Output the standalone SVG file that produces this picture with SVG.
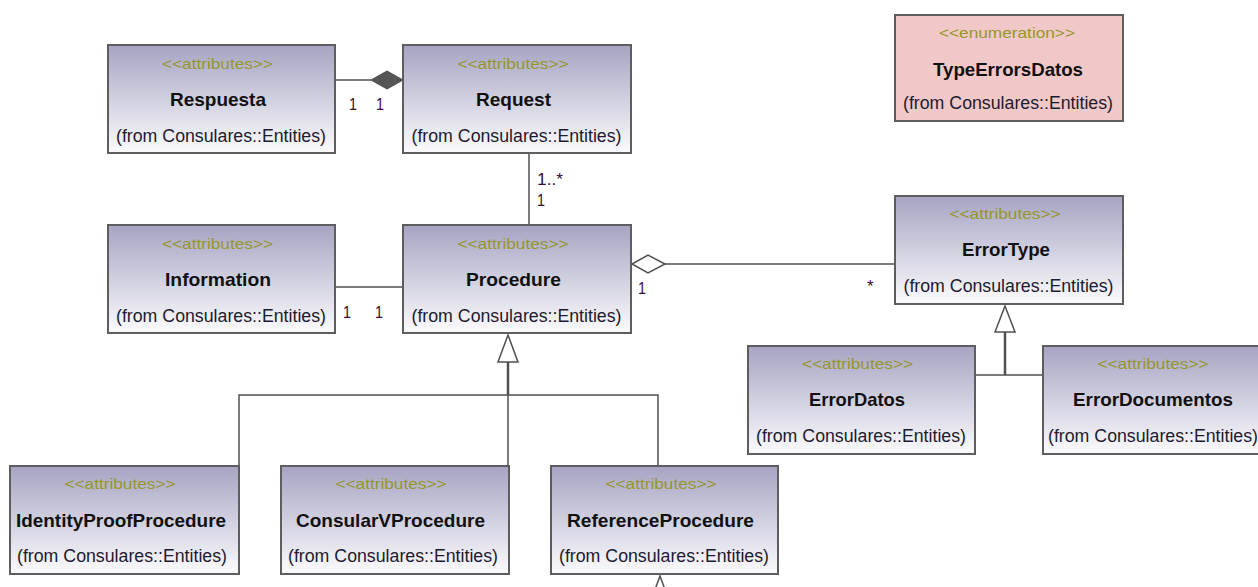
<svg xmlns="http://www.w3.org/2000/svg" width="1258" height="587" viewBox="0 0 1258 587">
  <defs>
    <linearGradient id="classFill" x1="0" y1="0" x2="0" y2="1">
      <stop offset="0" stop-color="#a6a4c2"/>
      <stop offset="1" stop-color="#fbfbfd"/>
    </linearGradient>
    <style>
      .box { fill: url(#classFill); stroke: #5e5e5e; stroke-width: 2; }
      .enum { fill: #f0c8c8; stroke: #5e5e5e; stroke-width: 2; }
      .st { font-family: "Liberation Sans", Arial, sans-serif; font-size: 15px; fill: #96962a; text-anchor: middle; }
      .nm { font-family: "Liberation Sans", Arial, sans-serif; font-size: 18.5px; font-weight: bold; fill: #111; text-anchor: middle; }
      .fr { font-family: "Liberation Sans", Arial, sans-serif; font-size: 17.5px; fill: #1e1a30; text-anchor: middle; }
      .mult { font-family: "Liberation Sans", Arial, sans-serif; font-size: 17px; fill: #3a0a3a; }
      .ln { fill: none; stroke: #505050; stroke-width: 1.5; }
      .thick { fill: none; stroke: #505050; stroke-width: 2.5; }
      .hollow { fill: #fff; stroke: #505050; stroke-width: 1.5; }
      .solid { fill: #555; stroke: #505050; stroke-width: 1; }
    </style>
  </defs>

  <rect width="1258" height="587" fill="#fff"/>

  <!-- connectors -->
  <g id="connectors">
    <!-- Respuesta composition into Request -->
    <line class="ln" x1="335" y1="80" x2="371" y2="80"/>
    <polygon class="solid" points="371,80 387,71 403,80 387,89"/>
    <text class="mult" x="349" y="110" textLength="8" lengthAdjust="spacingAndGlyphs">1</text>
    <text class="mult" x="376" y="110" textLength="8" lengthAdjust="spacingAndGlyphs">1</text>

    <!-- Request to Procedure -->
    <line class="ln" x1="529" y1="153" x2="529" y2="225"/>
    <text class="mult" x="537" y="185" textLength="26" lengthAdjust="spacingAndGlyphs">1..*</text>
    <text class="mult" x="537" y="206" textLength="8" lengthAdjust="spacingAndGlyphs">1</text>

    <!-- Information to Procedure -->
    <line class="ln" x1="335" y1="287" x2="403" y2="287"/>
    <text class="mult" x="343" y="318" textLength="8" lengthAdjust="spacingAndGlyphs">1</text>
    <text class="mult" x="375" y="318" textLength="8" lengthAdjust="spacingAndGlyphs">1</text>

    <!-- Procedure aggregation of ErrorType -->
    <line class="ln" x1="665" y1="264" x2="895" y2="264"/>
    <polygon class="hollow" points="632,264 648,255 665,264 648,273"/>
    <text class="mult" x="638" y="294" textLength="8" lengthAdjust="spacingAndGlyphs">1</text>
    <text class="mult" x="867" y="292">*</text>

    <!-- Procedure generalization -->
    <polyline class="ln" points="239,466 239,395 658,395 658,466"/>
    <line class="ln" x1="508" y1="395" x2="508" y2="466"/>
    <line class="thick" x1="508" y1="362" x2="508" y2="395"/>
    <polygon class="hollow" points="508,335 498,362 518,362"/>

    <!-- ErrorType generalization -->
    <line class="ln" x1="975" y1="375" x2="1043" y2="375"/>
    <line class="thick" x1="1005" y1="332" x2="1005" y2="375"/>
    <polygon class="hollow" points="1005,306 995,332 1015,332"/>

    <!-- generalization arriving at ReferenceProcedure from below -->
    <line class="ln" x1="660" y1="603" x2="660" y2="620"/>
    <polygon class="hollow" points="660,576 650,603 670,603"/>
  </g>

  <!-- nodes -->
  <g id="Respuesta">
    <rect class="box" x="108" y="45" width="227" height="108"/>
    <text class="st" x="217.5" y="69" textLength="111" lengthAdjust="spacingAndGlyphs">&lt;&lt;attributes&gt;&gt;</text>
    <text class="nm" x="218" y="106" textLength="96" lengthAdjust="spacingAndGlyphs">Respuesta</text>
    <text class="fr" x="221" y="142" textLength="210" lengthAdjust="spacingAndGlyphs">(from Consulares::Entities)</text>
  </g>

  <g id="Request">
    <rect class="box" x="403" y="45" width="228" height="108"/>
    <text class="st" x="513" y="69" textLength="111" lengthAdjust="spacingAndGlyphs">&lt;&lt;attributes&gt;&gt;</text>
    <text class="nm" x="513.5" y="106" textLength="75" lengthAdjust="spacingAndGlyphs">Request</text>
    <text class="fr" x="516.5" y="142" textLength="210" lengthAdjust="spacingAndGlyphs">(from Consulares::Entities)</text>
  </g>

  <g id="Information">
    <rect class="box" x="108" y="225" width="227" height="108"/>
    <text class="st" x="217.5" y="249" textLength="111" lengthAdjust="spacingAndGlyphs">&lt;&lt;attributes&gt;&gt;</text>
    <text class="nm" x="218" y="286" textLength="106" lengthAdjust="spacingAndGlyphs">Information</text>
    <text class="fr" x="221" y="322" textLength="210" lengthAdjust="spacingAndGlyphs">(from Consulares::Entities)</text>
  </g>

  <g id="Procedure">
    <rect class="box" x="403" y="225" width="228" height="108"/>
    <text class="st" x="513" y="249" textLength="111" lengthAdjust="spacingAndGlyphs">&lt;&lt;attributes&gt;&gt;</text>
    <text class="nm" x="513.5" y="286" textLength="95" lengthAdjust="spacingAndGlyphs">Procedure</text>
    <text class="fr" x="516.5" y="322" textLength="210" lengthAdjust="spacingAndGlyphs">(from Consulares::Entities)</text>
  </g>

  <g id="TypeErrorsDatos">
    <rect class="enum" x="895" y="15" width="228" height="106"/>
    <text class="st" x="1007" y="38" textLength="136" lengthAdjust="spacingAndGlyphs">&lt;&lt;enumeration&gt;&gt;</text>
    <text class="nm" x="1008" y="76" textLength="150" lengthAdjust="spacingAndGlyphs">TypeErrorsDatos</text>
    <text class="fr" x="1008" y="109" textLength="210" lengthAdjust="spacingAndGlyphs">(from Consulares::Entities)</text>
  </g>

  <g id="ErrorType">
    <rect class="box" x="895" y="196" width="228" height="108"/>
    <text class="st" x="1005" y="219" textLength="111" lengthAdjust="spacingAndGlyphs">&lt;&lt;attributes&gt;&gt;</text>
    <text class="nm" x="1006" y="256" textLength="88" lengthAdjust="spacingAndGlyphs">ErrorType</text>
    <text class="fr" x="1008.5" y="292" textLength="210" lengthAdjust="spacingAndGlyphs">(from Consulares::Entities)</text>
  </g>

  <g id="ErrorDatos">
    <rect class="box" x="748" y="346" width="227" height="108"/>
    <text class="st" x="857.5" y="369" textLength="111" lengthAdjust="spacingAndGlyphs">&lt;&lt;attributes&gt;&gt;</text>
    <text class="nm" x="857" y="406" textLength="96" lengthAdjust="spacingAndGlyphs">ErrorDatos</text>
    <text class="fr" x="861" y="442" textLength="210" lengthAdjust="spacingAndGlyphs">(from Consulares::Entities)</text>
  </g>

  <g id="ErrorDocumentos">
    <rect class="box" x="1043" y="346" width="228" height="108"/>
    <text class="st" x="1153" y="369" textLength="111" lengthAdjust="spacingAndGlyphs">&lt;&lt;attributes&gt;&gt;</text>
    <text class="nm" x="1153" y="406" textLength="160" lengthAdjust="spacingAndGlyphs">ErrorDocumentos</text>
    <text class="fr" x="1153" y="442" textLength="210" lengthAdjust="spacingAndGlyphs">(from Consulares::Entities)</text>
  </g>

  <g id="IdentityProofProcedure">
    <rect class="box" x="10" y="466" width="229" height="108"/>
    <text class="st" x="120" y="489" textLength="111" lengthAdjust="spacingAndGlyphs">&lt;&lt;attributes&gt;&gt;</text>
    <text class="nm" x="121" y="527" textLength="210" lengthAdjust="spacingAndGlyphs">IdentityProofProcedure</text>
    <text class="fr" x="122" y="562" textLength="210" lengthAdjust="spacingAndGlyphs">(from Consulares::Entities)</text>
  </g>

  <g id="ConsularVProcedure">
    <rect class="box" x="281" y="466" width="228" height="108"/>
    <text class="st" x="391" y="489" textLength="111" lengthAdjust="spacingAndGlyphs">&lt;&lt;attributes&gt;&gt;</text>
    <text class="nm" x="390.5" y="527" textLength="189" lengthAdjust="spacingAndGlyphs">ConsularVProcedure</text>
    <text class="fr" x="393" y="562" textLength="210" lengthAdjust="spacingAndGlyphs">(from Consulares::Entities)</text>
  </g>

  <g id="ReferenceProcedure">
    <rect class="box" x="551" y="466" width="227" height="108"/>
    <text class="st" x="661" y="489" textLength="111" lengthAdjust="spacingAndGlyphs">&lt;&lt;attributes&gt;&gt;</text>
    <text class="nm" x="660.5" y="527" textLength="187" lengthAdjust="spacingAndGlyphs">ReferenceProcedure</text>
    <text class="fr" x="664" y="562" textLength="210" lengthAdjust="spacingAndGlyphs">(from Consulares::Entities)</text>
  </g>
</svg>
